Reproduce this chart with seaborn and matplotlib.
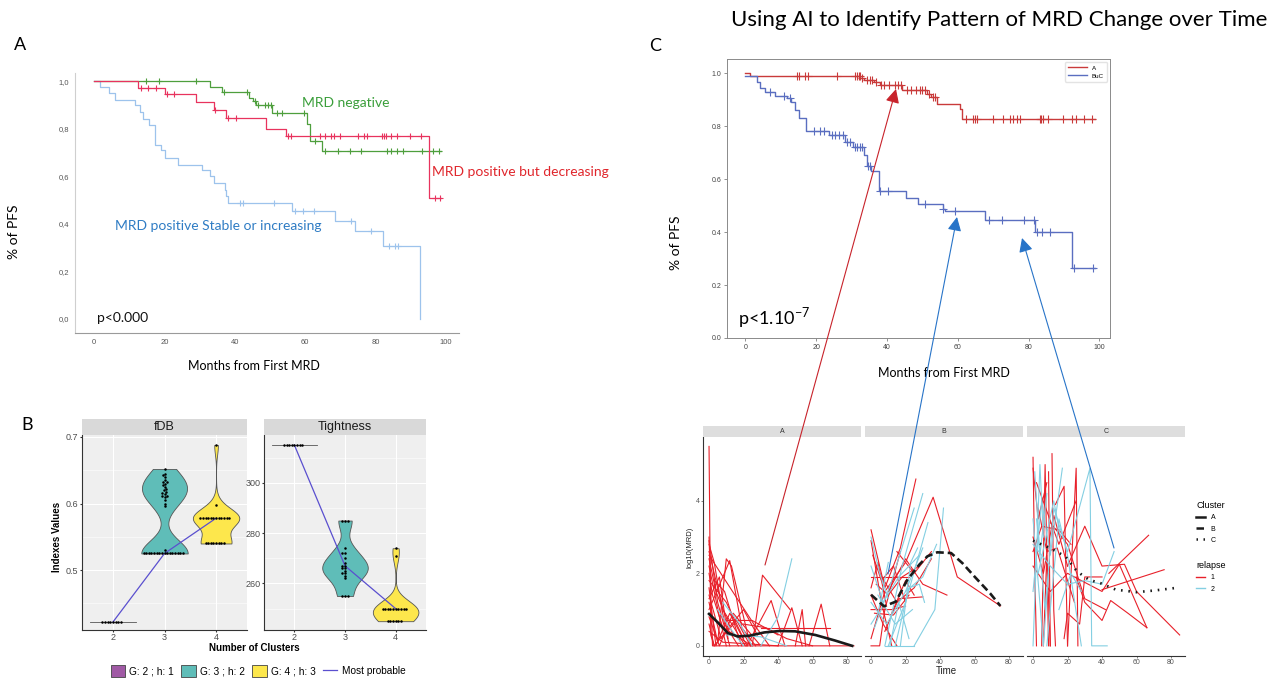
import numpy as np
import pandas as pd
import seaborn as sns
import matplotlib.pyplot as plt
from matplotlib.lines import Line2D
from matplotlib.patches import Patch
from matplotlib.ticker import MultipleLocator

W, H = 1284, 678

# ---------------- A : PFS by MRD kinetics
neg_t = [0, 33, 36.5, 44, 45.2, 46, 50.6, 60.6, 61.5, 64.9, 98.6]
neg_s = [1.0, 0.975, 0.954, 0.93, 0.915, 0.90, 0.867, 0.82, 0.75, 0.708, 0.708]
neg_cens = [14.8, 18.5, 28.9, 36.8, 43.5, 45.6, 46.6, 48.6, 49.5, 50.4, 52.1, 53.5, 59.7,
            62.9, 65.5, 69.3, 72.8, 75.9, 83.2, 84.4, 86.0, 87.9, 93.3, 96.2, 98.0]

dec_t = [0, 12.5, 20.3, 29.0, 34.2, 37.6, 48.9, 54.5, 95.1, 98.6]
dec_s = [1.0, 0.97, 0.945, 0.91, 0.88, 0.845, 0.80, 0.77, 0.51, 0.51]
dec_cens = [13.3, 15.3, 17.7, 20.8, 22.6, 34.5, 38.2, 40.3, 55.0, 55.9, 64.3, 65.5, 67.2,
            68.2, 69.8, 75.1, 76.8, 77.6, 81.7, 82.3, 82.9, 84.4, 86.0, 89.8, 92.9, 96.8, 98.3]

inc_t = [0, 1.7, 4.4, 6.0, 11.6, 13.1, 13.9, 15.6, 17.4, 19.1, 20.3, 24.0, 30.7, 33.0,
         34.2, 37.1, 37.6, 38.2, 56.2, 68.4, 74.2, 82.1, 92.5]
inc_s = [1.0, 0.976, 0.95, 0.92, 0.90, 0.87, 0.84, 0.815, 0.73, 0.71, 0.675, 0.648, 0.627,
         0.60, 0.57, 0.543, 0.515, 0.487, 0.455, 0.413, 0.368, 0.305, 0.0]
inc_cens = [41.5, 42.4, 51.2, 57.0, 59.3, 62.6, 72.9, 78.8, 83.8, 85.5, 86.3]

# ---------------- B : cluster number indexes
n_clusters = [2, 3, 4]
groups = ['G: 2 ; h: 1', 'G: 3 ; h: 2', 'G: 4 ; h: 3']
fdb_g2 = [0.422] * 8
fdb_g3 = [0.525] * 16 + [0.530, 0.596, 0.600, 0.605, 0.610, 0.611, 0.612, 0.615, 0.616, 0.618,
                         0.620, 0.622, 0.625, 0.628, 0.630, 0.632, 0.633, 0.635, 0.640, 0.643,
                         0.645, 0.652]
fdb_g4 = [0.540] * 8 + [0.578] * 12 + [0.598, 0.688]
tight_g2 = [315] * 8
tight_g3 = [255] * 3 + [285] * 3 + [262, 263, 264, 264, 265, 266, 266, 267, 267, 268, 270, 272, 272, 274]
tight_g4 = [245] * 6 + [250] * 10 + [271, 274]
best_fdb = [0.422, 0.525, 0.578]
best_tight = [315, 267, 250]

# ---------------- C : PFS by AI cluster
a_t = [0, 1.2, 32.5, 33.4, 36.2, 38.1, 44.2, 51.3, 52.5, 54.1, 60.5, 61.1, 98.8]
a_s = [1.0, 0.99, 0.98, 0.975, 0.965, 0.955, 0.935, 0.92, 0.91, 0.885, 0.865, 0.825, 0.825]
a_cens = [14.6, 15.1, 16.7, 17.6, 25.9, 31.0, 31.5, 32.0, 32.3, 32.9, 34.3, 35.1, 35.7, 37.0,
          38.3, 39.2, 40.5, 42.3, 43.0, 43.9, 45.6, 46.8, 48.3, 49.2, 49.9, 50.8, 52.0, 53.0,
          53.6, 62.4, 64.3, 64.9, 65.4, 69.9, 72.7, 74.8, 75.7, 76.7, 77.6, 83.1, 83.4, 84.0,
          85.6, 89.8, 92.2, 93.4, 95.7, 97.8]
buc_t = [0, 3.3, 4.2, 5.6, 8.5, 11.8, 12.9, 14.1, 15.1, 17.2, 23.5, 28.2, 30.4, 33.4, 34.3,
         35.5, 37.6, 45.4, 48.7, 55.8, 56.5, 67.7, 81.8, 92.2, 98.8]
buc_s = [0.99, 0.965, 0.945, 0.93, 0.915, 0.905, 0.89, 0.86, 0.83, 0.78, 0.765, 0.74, 0.72,
         0.69, 0.65, 0.63, 0.555, 0.53, 0.505, 0.485, 0.48, 0.445, 0.40, 0.265, 0.265]
buc_cens = [6.9, 10.8, 12.5, 19.3, 21.0, 22.1, 24.5, 25.4, 26.3, 27.6, 28.7, 29.6, 31.0, 31.5,
            32.3, 32.9, 34.6, 35.1, 38.1, 40.3, 50.8, 55.9, 59.3, 68.7, 72.4, 78.7, 81.4, 82.3,
            83.7, 86.1, 92.7, 98.1]

# MRD trajectories per cluster, (time, log10 MRD)
clA_relapse = [
    [(0, 5.5), (1, 0.3), (3, 0)], [(0, 2.9), (5, 1.2), (12, 0)], [(0, 2.8), (3, 2.3), (9, 0.6), (17, 0)],
    [(0, 2.6), (8, 1.0), (21, 0)], [(0, 2.4), (4, 1.5), (14, 0.3)], [(0, 2.2), (6, 0.8), (10, 0)],
    [(0, 2.0), (2, 1.4), (8, 0.5), (25, 0)], [(0, 1.8), (10, 1.2), (20, 0.2)],
    [(0, 1.6), (4, 0), (12, 0.9), (22, 0)], [(0, 1.4), (7, 0.2), (16, 0.7), (24, 0)],
    [(0, 1.2), (5, 0.1), (10, 2.4), (13, 2.2), (24, 0)], [(0, 1.0), (12, 2.35), (19, 0.5), (27, 0)],
    [(0, 0.8), (6, 0), (14, 0.9), (30, 0)], [(0, 0.6), (3, 0), (20, 1.0), (28, 0.3)],
    [(0, 0.4), (8, 0.1), (40, 0)], [(0, 3.0), (2, 0), (84, 0)], [(25, 0), (31, 1.95), (47, 1.0)],
    [(22, 0), (36, 1.25), (44, 0)], [(30, 0.5), (70, 0.5)], [(40, 0), (48, 1.05), (54, 0)],
    [(50, 0), (54, 1.0), (56, 0)], [(58, 0), (65, 1.15), (70, 0)], [(10, 0.7), (25, 0.7), (40, 0.3)],
    [(0, 2.5), (15, 1.4), (26, 0.6), (35, 0)], [(3, 1.8), (9, 1.5), (16, 0.4), (19, 0)],
    [(20, 0.6), (33, 0.5), (45, 0.2), (60, 0)], [(0, 1.3), (6, 1.9), (11, 0.2)],
]
clA_norelapse = [
    [(30, 0), (40, 0.8), (48, 2.4)], [(5, 1.0), (12, 0.5), (20, 0)],
    [(8, 1.2), (18, 0.6), (25, 0)], [(10, 0.3), (30, 0.25), (45, 0)],
]
clB_relapse = [
    [(0, 3.2), (8, 1.6), (17, 2.7), (26, 4.6)], [(0, 2.9), (6, 1.2), (12, 0.0)],
    [(0, 0), (5, 0), (8, 1.0), (17, 2.6)], [(0, 1.9), (10, 1.9), (22, 1.9)],
    [(0, 1.0), (12, 1.0), (20, 1.1)], [(2, 0.9), (13, 0.85), (22, 1.4)],
    [(0, 0.2), (8, 1.5), (20, 2.3), (36, 4.1), (50, 1.9), (75, 1.1)],
    [(3, 1.7), (10, 1.4), (18, 1.9), (28, 2.2)], [(5, 2.0), (15, 1.2), (25, 1.6), (35, 2.4)],
    [(0, 1.4), (7, 0.6), (15, 0)], [(10, 1.5), (20, 2.4), (30, 1.7), (44, 1.4)],
    [(1, 2.5), (6, 1.8), (13, 2.2), (20, 1.2)], [(8, 0.4), (16, 1.3), (30, 1.35)],
    [(12, 0.9), (20, 1.8), (25, 1.4)], [(0, 1.6), (4, 2.3), (9, 1.1)], [(15, 2.6), (25, 2.0), (35, 2.6)],
]
clB_norelapse = [
    [(0, 3.0), (5, 2.0), (10, 1.3)], [(8, 0), (18, 2.2), (30, 4.2)], [(2, 0.5), (12, 1.8), (25, 3.8)],
    [(10, 0), (20, 1.2), (33, 3.4)], [(25, 0), (37, 1.0), (42, 3.8)],
    [(0, 2.2), (7, 1.2), (16, 1.9), (28, 2.5)], [(8, 0), (25, 0)],
    [(14, 0), (22, 1.6), (28, 1.7), (31, 1.2)], [(0, 1.2), (9, 0.6), (20, 1.5), (30, 2.7)],
    [(4, 1.4), (14, 0.6), (24, 1.0)], [(17, 0), (23, 2.3), (27, 2.7)], [(0, 0.6), (4, 0.9), (10, 2.3)],
    [(20, 1.5), (30, 1.9), (38, 2.8)], [(11, 0), (16, 1.2), (22, 0.2)],
]
clC_relapse = [
    [(0, 5.2), (1, 2.0), (2, 0)], [(0, 4.9), (3, 3.5), (8, 4.5)], [(5, 0), (7, 5.0), (9, 0)],
    [(9, 4.8), (10, 0)], [(11, 5.3), (12, 1.0), (13, 0)], [(13, 3.9), (18, 4.4), (20, 0)],
    [(20, 0), (25, 4.9), (26, 0)], [(0, 3.0), (6, 2.0), (12, 3.6), (20, 2.2)],
    [(0, 2.2), (10, 1.5), (20, 2.0), (40, 1.5), (50, 2.25), (66, 0.5)],
    [(20, 2.2), (30, 3.3), (40, 2.2), (53, 2.25), (60, 1.5), (85, 0.3)],
    [(10, 3.4), (20, 2.8), (30, 1.3), (42, 1.0)],
    [(25, 1.9), (30, 1.2), (40, 0.7), (45, 1.25), (55, 0.9), (66, 0.5)],
    [(40, 1.55), (76, 2.1)], [(44, 2.0), (67, 3.05)], [(2, 4.5), (15, 2.8), (25, 4.0)],
    [(0, 2.6), (5, 3.3), (15, 3.2), (22, 2.8)], [(18, 0.2), (20, 0.9), (27, 0.6), (30, 1.9), (40, 1.9)],
    [(3, 3.8), (8, 2.6), (14, 2.7), (24, 1.2)], [(6, 0), (8, 2.5), (10, 0)],
]
clC_norelapse = [
    [(0, 0), (4, 5.0), (6, 3.0)], [(1, 4.8), (4, 2.5), (8, 4.2)], [(0, 1.5), (5, 4.0), (10, 2.5), (17, 4.9)],
    [(2, 3.5), (7, 1.0), (12, 3.8), (20, 2.6)], [(20, 2.6), (33, 4.9), (34, 0), (43, 0)],
    [(0, 2.8), (10, 2.2), (20, 1.7), (30, 1.8), (40, 1.7), (47, 2.6)],
    [(8, 0), (15, 3.5), (20, 2.5), (28, 0)], [(3, 2.0), (12, 4.0), (16, 3.0)],
    [(0, 3.5), (6, 0), (9, 2.0)], [(15, 1.0), (22, 2.0), (28, 1.5)],
]
# cluster mean curves
meanA = [(0, 0.88), (5.4, 0.63), (11, 0.35), (16.6, 0.26), (23.4, 0.28), (32, 0.37), (41, 0.41),
         (50, 0.40), (61.6, 0.30), (72.8, 0.15), (83, 0.0)]
meanB = [(0, 1.41), (7.5, 1.09), (14.4, 1.22), (21, 1.82), (28, 2.24), (32.7, 2.47), (38.4, 2.58),
         (46.4, 2.56), (53, 2.28), (60, 1.91), (69, 1.45), (75, 1.10)]
meanC = [(0, 2.9), (9.6, 2.7), (18.7, 2.47), (25.6, 2.05), (32.5, 1.82), (39, 1.73), (48, 1.55),
         (60, 1.48), (71, 1.53), (85, 1.61)]

plt.rcParams['font.family'] = ['Liberation Sans', 'DejaVu Sans']
plt.rcParams['mathtext.fontset'] = 'custom'
plt.rcParams['mathtext.rm'] = 'Lato'
CAL = 'Lato'

fig = plt.figure(figsize=(W / 100, H / 100), dpi=100)


def box(l, t, r, b, **kw):
    return fig.add_axes([l / W, 1 - b / H, (r - l) / W, (b - t) / H], **kw)


def surv_at(times, surv, pts):
    idx = np.searchsorted(times, pts, side='right') - 1
    return np.asarray(surv)[idx]


def km(ax, t, s, cens, col, lw, ms, label=None):
    sns.lineplot(x=t, y=s, drawstyle='steps-post', estimator=None, sort=False,
                 color=col, lw=lw, ax=ax, label=label)
    sns.scatterplot(x=cens, y=surv_at(t, s, cens), marker='+', color=col, s=ms,
                    linewidth=0.8, ax=ax, zorder=3)


# ---- panel A
axA = box(75, 73, 459, 333)
km(axA, inc_t, inc_s, inc_cens, '#9DC3EC', 0.9, 20)
km(axA, neg_t, neg_s, neg_cens, '#4E9F3D', 0.9, 20)
km(axA, dec_t, dec_s, dec_cens, '#E8335E', 0.9, 20)
axA.set_xlim(-5.4, 103.7)
axA.set_ylim(-0.059, 1.034)
axA.set_xticks(range(0, 101, 20))
yt = np.arange(0, 1.01, 0.2)
axA.set_yticks(yt)
axA.set_yticklabels([f'{v:.1f}'.replace('.', ',') for v in yt])
axA.tick_params(length=0, labelsize=5.5, labelcolor='#555555', pad=4)
for sp in ['top', 'right']:
    axA.spines[sp].set_visible(False)
axA.spines['left'].set_color('#cfcfcf')
axA.spines['bottom'].set_color('#9a9a9a')
axA.set_xlabel('')
axA.set_ylabel('')

# ---- panel B
pal = dict(zip(groups, ['#A05AA5', '#5FBDB8', '#FDE74C']))
rows = []
for metric, vals in [('fDB', [fdb_g2, fdb_g3, fdb_g4]), ('Tightness', [tight_g2, tight_g3, tight_g4])]:
    for k, g, v in zip(n_clusters, groups, vals):
        rows += [(metric, k, g, x) for x in v]
dfB = pd.DataFrame(rows, columns=['metric', 'k', 'group', 'value'])

for (l, r), metric, best, ylim, maj, mnr in [((82, 247), 'fDB', best_fdb, (0.41, 0.703), 0.1, 0.05),
                                              ((264, 426), 'Tightness', best_tight, (241.5, 319), 20, 10)]:
    ax = box(l, 435, r, 630)
    sub = dfB[dfB.metric == metric]
    sns.violinplot(data=sub, x='k', y='value', hue='group', palette=pal, native_scale=True,
                   cut=0, density_norm='width', width=0.9, inner=None, linewidth=0.6,
                   linecolor='#555555', bw_adjust=0.8, saturation=1, legend=False, ax=ax)
    sns.swarmplot(data=sub, x='k', y='value', native_scale=True, color='black', size=1.8, ax=ax)
    sns.lineplot(x=n_clusters, y=best, color='#5A4FCF', lw=0.9, ax=ax)
    ax.set_xlim(1.4, 4.6)
    ax.set_ylim(*ylim)
    ax.set_xticks(n_clusters)
    ax.yaxis.set_major_locator(MultipleLocator(maj))
    ax.yaxis.set_minor_locator(MultipleLocator(mnr))
    ax.set_facecolor('#EFEFEF')
    ax.grid(True, which='major', color='white', lw=0.8)
    ax.grid(True, which='minor', axis='y', color='white', lw=0.4)
    ax.set_axisbelow(True)
    ax.tick_params(which='major', length=1.5, color='#333333', labelsize=6.5, labelcolor='#4D4D4D', pad=1)
    ax.tick_params(which='minor', length=0)
    for sp in ['top', 'right']:
        ax.spines[sp].set_visible(False)
    for sp in ['left', 'bottom']:
        ax.spines[sp].set_color('#333333')
        ax.spines[sp].set_linewidth(0.8)
    ax.set_xlabel('')
    ax.set_ylabel('')
    sax = box(l, 419, r, 435)
    sax.set_facecolor('#D9D9D9')
    sax.set_xticks([])
    sax.set_yticks([])
    for sp in sax.spines.values():
        sp.set_visible(False)
    sax.text(0.5, 0.5, metric, ha='center', va='center', fontsize=9, color='#1A1A1A', transform=sax.transAxes)

legB = [Patch(fc=pal[g], ec='#444444', lw=0.6) for g in groups] + [Line2D([], [], color='#5A4FCF', lw=0.9)]
fig.legend(legB, groups + ['Most probable'], loc='center', bbox_to_anchor=(258 / W, 1 - 671 / H),
           ncol=4, frameon=False, fontsize=7.3, handlelength=1.45, handleheight=1.45,
           columnspacing=0.7, handletextpad=0.4, borderpad=0)

# ---- panel C top
axC = box(727, 59, 1110, 338)
km(axC, a_t, a_s, a_cens, '#C93A3A', 1.0, 40, label='A')
km(axC, buc_t, buc_s, buc_cens, '#5A6EC0', 1.0, 40, label='BuC')
axC.set_xlim(-5.2, 103)
axC.set_ylim(0, 1.053)
axC.set_xticks(range(0, 101, 20))
axC.set_yticks(np.arange(0, 1.01, 0.2))
axC.yaxis.set_major_formatter(lambda v, p: f'{v:.1f}')
axC.tick_params(length=2, width=0.5, color='#666666', labelsize=5, labelcolor='#444444', pad=2)
for sp in axC.spines.values():
    sp.set_color('#8a8a8a')
    sp.set_linewidth(0.7)
axC.set_xlabel('')
axC.set_ylabel('')
axC.legend(loc='upper right', fontsize=4.5, handlelength=3, frameon=True, edgecolor='#dddddd',
           borderpad=0.5, labelspacing=0.4)

# ---- panel C bottom : MRD trajectories by cluster
rows = []
pid = 0
for cl, sets in [('A', [clA_relapse, clA_norelapse]), ('B', [clB_relapse, clB_norelapse]),
                 ('C', [clC_relapse, clC_norelapse])]:
    for rel, trajs in zip([1, 2], sets):
        for tr in trajs:
            pid += 1
            rows += [(cl, pid, rel, t, v) for t, v in tr]
dfT = pd.DataFrame(rows, columns=['cluster', 'pid', 'relapse', 'time', 'value'])
means = {'A': meanA, 'B': meanB, 'C': meanC}
styles = {'A': '-', 'B': (0, (3, 1.5)), 'C': (0, (0.6, 2.2))}

for i, (cl, (l, r)) in enumerate(zip(['A', 'B', 'C'], [(703, 861), (865, 1023), (1027, 1185)])):
    ax = box(l, 437, r, 656)
    sns.lineplot(data=dfT[dfT.cluster == cl], x='time', y='value', units='pid', hue='relapse',
                 estimator=None, sort=False, palette={1: '#E8202A', 2: '#84CFE2'}, lw=0.8,
                 legend=False, ax=ax)
    mt, mv = zip(*means[cl])
    sns.lineplot(x=list(mt), y=list(mv), color='#1a1a1a', lw=1.9, linestyle=styles[cl],
                 estimator=None, sort=False, ax=ax)
    ax.set_xlim(-3.5, 88.1)
    ax.set_ylim(-0.28, 5.76)
    ax.set_xticks(range(0, 81, 20))
    ax.set_yticks([0, 2, 4])
    ax.tick_params(length=1.5, width=0.5, color='#555555', labelsize=5, labelcolor='#555555', pad=0.8)
    for sp in ['top', 'right']:
        ax.spines[sp].set_visible(False)
    ax.spines['bottom'].set_color('#333333')
    ax.spines['bottom'].set_linewidth(0.8)
    if i > 0:
        ax.spines['left'].set_visible(False)
        ax.tick_params(axis='y', left=False, labelleft=False)
    else:
        ax.spines['left'].set_color('#333333')
        ax.spines['left'].set_linewidth(0.8)
    ax.set_xlabel('')
    ax.set_ylabel('')
    sax = box(l, 426, r, 437)
    sax.set_facecolor('#DEDEDE')
    sax.set_xticks([])
    sax.set_yticks([])
    for sp in sax.spines.values():
        sp.set_visible(False)
    sax.text(0.5, 0.5, cl, ha='center', va='center', fontsize=5, color='#333333', transform=sax.transAxes)

leg1 = fig.legend([Line2D([], [], color='#1a1a1a', lw=1.8, ls=styles[c]) for c in 'ABC'], list('ABC'),
                  title='Cluster', loc='upper left', bbox_to_anchor=(1190 / W, 1 - 495 / H),
                  frameon=False, fontsize=5, title_fontsize=6.5, handlelength=1.3,
                  alignment='left', labelspacing=0.6)
leg2 = fig.legend([Line2D([], [], color=c, lw=1) for c in ['#E8202A', '#84CFE2']], ['1', '2'],
                  title='relapse', loc='upper left', bbox_to_anchor=(1190 / W, 1 - 555 / H),
                  frameon=False, fontsize=5, title_fontsize=6.5, handlelength=1.3,
                  alignment='left', labelspacing=0.6)

# ---- overlay : titles, annotations and arrows
ov = fig.add_axes([0, 0, 1, 1], zorder=10)
ov.set_xlim(0, W)
ov.set_ylim(H, 0)
ov.axis('off')
ov.text(999, 20, 'Using AI to Identify Pattern of MRD Change over Time', ha='center', va='center',
        fontsize=16, family=CAL)
ov.text(14, 45, 'A', fontsize=13, family=CAL, va='center')
ov.text(21, 425, 'B', fontsize=13, family=CAL, va='center')
ov.text(649, 46, 'C', fontsize=13, family=CAL, va='center')

ov.text(302, 103, 'MRD negative', color='#3A9E3A', fontsize=10, family=CAL, va='center')
ov.text(432, 172, 'MRD positive but decreasing', color='#E0262C', fontsize=10, family=CAL, va='center')
ov.text(115, 226, 'MRD positive Stable or increasing', color='#2F7CC4', fontsize=10, family=CAL, va='center')
ov.text(97, 318, 'p<0.000', color='#111111', fontsize=10, family=CAL, va='center')
ov.text(14, 232, '% of PFS', rotation=90, fontsize=10, family=CAL, ha='center', va='center')
ov.text(254, 366, 'Months from First MRD', fontsize=9, family=CAL, ha='center', va='center')

ov.text(57, 537, 'Indexes Values', rotation=90, fontsize=7, fontweight='bold', ha='center', va='center')
ov.text(254, 648, 'Number of Clusters', fontsize=7, fontweight='bold', ha='center', va='center')

ov.text(676, 243, '% of PFS', rotation=90, fontsize=10, family=CAL, ha='center', va='center')
ov.text(944, 373, 'Months from First MRD', fontsize=9, family=CAL, ha='center', va='center')
ov.text(738, 318, r'p<1.10$^{-7}$', fontsize=13, family=CAL, va='center')
ov.text(690, 547, 'log10(MRD)', rotation=90, fontsize=5.5, color='#222222', ha='center', va='center')
ov.text(946, 671, 'Time', fontsize=7, color='#222222', ha='center', va='center')

for start, tip, col in [((765, 565), (896, 89), '#C8232B'),
                        ((888, 574), (957, 217), '#2874C8'),
                        ((1114, 548), (1022, 238), '#2874C8')]:
    ov.annotate('', xy=tip, xytext=start,
                arrowprops=dict(arrowstyle='-|>,head_length=0.6,head_width=0.3', color=col,
                                lw=0.8, mutation_scale=14, shrinkA=0, shrinkB=0))

fig.savefig('out.png', dpi=100, facecolor='white')
